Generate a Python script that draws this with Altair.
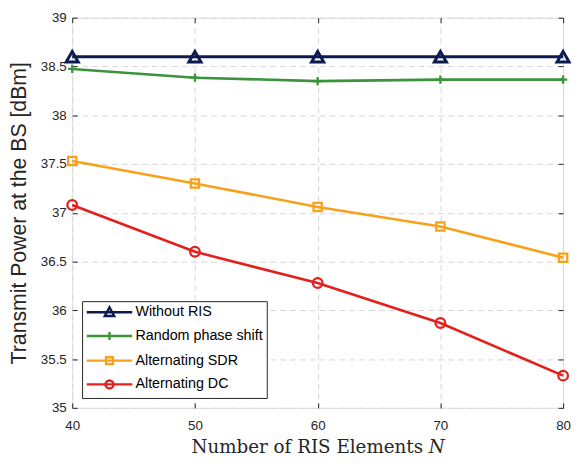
import altair as alt
import pandas as pd

# ---- data ----
x_vals = [40, 50, 60, 70, 80]
series_names = ["Without RIS", "Random phase shift", "Alternating SDR", "Alternating DC"]
without_ris = [38.6, 38.6, 38.6, 38.6, 38.6]
random_phase = [38.475, 38.385, 38.35, 38.365, 38.365]
alt_sdr = [37.53, 37.30, 37.06, 36.86, 36.54]
alt_dc = [37.08, 36.60, 36.28, 35.87, 35.33]
x_ticks = [40, 50, 60, 70, 80]
y_ticks = [35, 35.5, 36, 36.5, 37, 37.5, 38, 38.5, 39]

colors = ["#0d1b4f", "#3b933b", "#f8a11c", "#e3201b"]
series_values = [without_ris, random_phase, alt_sdr, alt_dc]

rows = []
for name, vals in zip(series_names, series_values):
    for xv, yv in zip(x_vals, vals):
        rows.append({"N": xv, "P": yv, "series": name})
df = pd.DataFrame(rows)

W, H = 497, 395
FG = "#262626"
SANS = "Liberation Sans"

xs = alt.Scale(domain=[40, 80], nice=False, zero=False)
ys = alt.Scale(domain=[35, 39], nice=False, zero=False)

base = alt.Chart(df)

# main layer carrying labelled axes + grid
main_x = alt.X("N:Q", scale=xs, axis=alt.Axis(
    orient="bottom", values=x_ticks, grid=True, gridDash=[6, 4], gridColor="#d6d6d6",
    gridWidth=1, ticks=False, domain=False, labelFont=SANS, labelFontSize=13.5,
    labelColor=FG, labelPadding=11, labelFlush=False, title="Number of RIS Elements 𝑁",
    titleFont="DejaVu Serif", titleFontSize=18.5, titleFontWeight="normal",
    titleColor=FG, titlePadding=6))
main_y = alt.Y("P:Q", scale=ys, axis=alt.Axis(
    orient="left", values=y_ticks, format=".1~f", grid=True, gridDash=[6, 4],
    gridColor="#d6d6d6", gridWidth=1, ticks=False, domain=False, labelFont=SANS,
    labelFontSize=13.5, labelColor=FG, labelPadding=6, labelFlush=False,
    title="Transmit Power at the BS [dBm]", titleFont=SANS, titleFontSize=21.5,
    titleFontWeight="normal", titleColor=FG, titlePadding=10))

layers = []
grid_layer = base.mark_point(opacity=0).encode(x=main_x, y=main_y)
layers.append(grid_layer)

# inward ticks on all four sides
tick_common = dict(labels=False, grid=False, domain=False, tickSize=5,
                   tickColor=FG, tickWidth=1, title=None)
ticks_a = base.mark_point(opacity=0).encode(
    x=alt.X("N:Q", scale=xs, axis=alt.Axis(orient="top", offset=-H, values=x_ticks, **tick_common)),
    y=alt.Y("P:Q", scale=ys, axis=alt.Axis(orient="right", offset=-W, values=y_ticks, **tick_common)))
ticks_b = base.mark_point(opacity=0).encode(
    x=alt.X("N:Q", scale=xs, axis=alt.Axis(orient="bottom", offset=-H, values=x_ticks, **tick_common)),
    y=alt.Y("P:Q", scale=ys, axis=alt.Axis(orient="left", offset=-W, values=y_ticks, **tick_common)))
layers += [ticks_a, ticks_b]

marker_shapes = ["triangle-up", "M-1,0H1M0,-1V1", "square", "circle"]
marker_sizes = [150, 70, 70, 95]
marker_strokes = [3.0, 2.3, 2.3, 2.3]
line_widths = [3.2, 2.6, 2.6, 2.6]
xn = alt.X("N:Q", scale=xs, axis=None)
yn = alt.Y("P:Q", scale=ys, axis=None)
for name, col, shp, sz, ms, lw in zip(series_names, colors, marker_shapes, marker_sizes,
                                      marker_strokes, line_widths):
    sub = base.transform_filter(alt.datum.series == name)
    layers.append(sub.mark_line(color=col, strokeWidth=lw).encode(x=xn, y=yn))
    layers.append(sub.mark_point(shape=shp, size=sz, filled=False, color=col,
                                 strokeWidth=ms, opacity=1).encode(x=xn, y=yn))

# legend-only layer (line + marker symbols); unit = 5 px (symbolSize 100)
legend_paths = [
    "M-4.6,0H4.6M0,-1L0.95,0.75L-0.95,0.75Z",
    "M-4.6,0H4.6M0,-0.8V0.8",
    "M-4.6,0H4.6M-0.7,-0.7H0.7V0.7H-0.7Z",
    "M-4.6,0H4.6M0.8,0A0.8,0.8 0 1,1 -0.8,0A0.8,0.8 0 1,1 0.8,0",
]
leg = alt.Legend(title=None, orient="bottom-left", offset=10, symbolSize=100,
                 symbolStrokeWidth=2.4, symbolOpacity=1, symbolOffset=16.5,
                 labelFont=SANS, labelFontSize=14.5,
                 labelColor="black", padding=4, strokeColor=FG, fillColor="white",
                 rowPadding=6, labelOffset=19, labelLimit=300)
legend_layer = base.transform_filter("false").mark_point(filled=False, strokeWidth=2.4, opacity=1).encode(
    x=xn, y=yn,
    color=alt.Color("series:N", scale=alt.Scale(domain=series_names, range=colors), legend=leg),
    shape=alt.Shape("series:N", scale=alt.Scale(domain=series_names, range=legend_paths), legend=leg),
)
layers.append(legend_layer)

chart = alt.layer(*layers).resolve_axis(x="independent", y="independent").properties(
    width=W, height=H,
    autosize=alt.AutoSizeParams(type="none"),
    padding={"left": 65, "top": 7, "right": 8, "bottom": 52},
).configure_view(stroke=FG, strokeWidth=1).configure(background="white")

chart.save("out.html", embed_options={"renderer": "svg", "actions": False})
